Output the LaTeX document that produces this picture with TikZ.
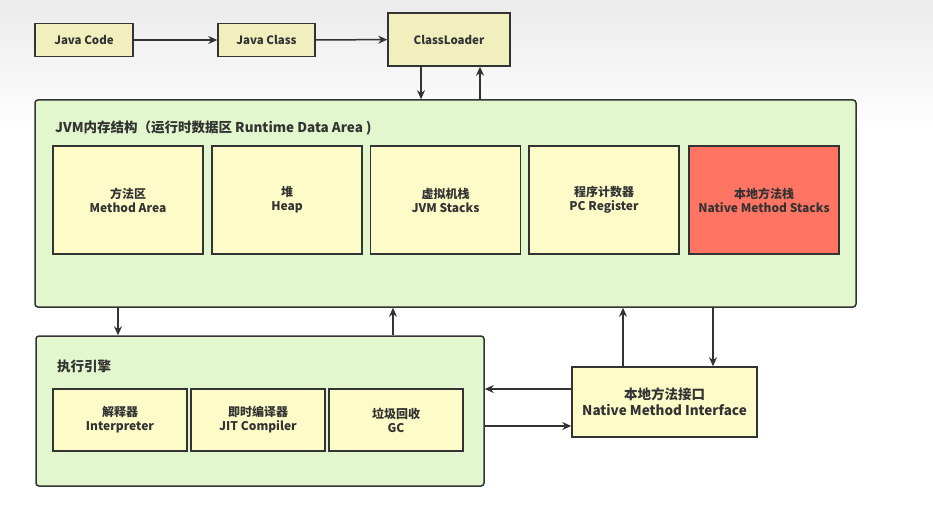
\documentclass[tikz,border=0pt]{standalone}
\usepackage{fontspec}
\newfontfamily\cjk{Noto Sans CJK SC}
\usetikzlibrary{arrows.meta}
\definecolor{linec}{HTML}{333333}
\definecolor{yel}{HTML}{FDFCC9}
\definecolor{yeltop}{HTML}{F1EFBE}
\definecolor{grn}{HTML}{E2F7CD}
\definecolor{redb}{HTML}{FF7462}
\tikzset{
  box/.style={draw=linec, line width=1.5pt, fill=yel, align=center, text=linec,
    font=\cjk\bfseries\fontsize{12}{14}\selectfont, inner sep=0pt},
  topbox/.style={box, fill=yeltop, font=\cjk\bfseries\fontsize{11.5}{14}\selectfont},
  area/.style={draw=linec, line width=1.5pt, fill=grn, rounded corners=3pt, inner sep=0pt},
  title/.style={anchor=west, text=linec, font=\cjk\bfseries\fontsize{13.5}{15}\selectfont, inner sep=0pt},
  arr/.style={draw=linec, line width=1.5pt, -{Stealth[length=9pt,width=8pt]}}
}
\begin{document}
\begin{tikzpicture}[x=1pt,y=-1pt]
\useasboundingbox (0,0) rectangle (933,510);
\shade[top color=black!8, bottom color=white] (0,0) rectangle (933,130);
\fill[white] (0,130) rectangle (933,510);
% top row
\node[topbox, minimum width=98, minimum height=33] (jc) at (84,40) {Java Code};
\node[topbox, minimum width=97, minimum height=33] (jcl) at (266.5,40) {Java Class};
\node[topbox, minimum width=122, minimum height=53] (cl) at (449,39.5) {ClassLoader};
% JVM area
\node[area, minimum width=821, minimum height=207] (jvm) at (445.5,203.5) {};
\node[title] (jvmt) at (55,128) {JVM内存结构（运行时数据区 Runtime Data Area )};
\node[box, minimum width=150, minimum height=108] (ma) at (128,200) {方法区\\Method Area};
\node[box, minimum width=150, minimum height=108] (hp) at (287,200) {堆\\Heap};
\node[box, minimum width=150, minimum height=108] (vs) at (445.5,200) {虚拟机栈\\JVM Stacks};
\node[box, minimum width=150, minimum height=108] (pc) at (604,200) {程序计数器\\PC Register};
\node[box, fill=redb, minimum width=150, minimum height=108] (ns) at (764,200) {本地方法栈\\Native Method Stacks};
% execution engine
\node[area, minimum width=448, minimum height=150] (ee) at (260,411) {};
\node[title] (eet) at (57,366) {执行引擎};
\node[box, minimum width=134, minimum height=62] (ip) at (120,420) {解释器\\Interpreter};
\node[box, minimum width=134, minimum height=62] (jit) at (258,420) {即时编译器\\JIT Compiler};
\node[box, minimum width=134, minimum height=62] (gc) at (396,420) {垃圾回收\\GC};
% native interface
\node[box, fill=yel, font=\cjk\bfseries\fontsize{13.5}{16}\selectfont, minimum width=185, minimum height=70] (nmi) at (664.5,402) {本地方法接口\\Native Method Interface};
% connectors
\draw[arr] (jc) -- (jcl);
\draw[arr] (jcl) -- (cl);
\coordinate (xa) at (421,0);
\coordinate (xb) at (480,0);
\draw[arr] (xa |- cl.south) -- (xa |- jvm.north);
\draw[arr] (xb |- jvm.north) -- (xb |- cl.south);
\coordinate (xc) at (118,0);
\coordinate (xd) at (393,0);
\draw[arr] (xc |- jvm.south) -- (xc |- ee.north);
\draw[arr] (xd |- ee.north) -- (xd |- jvm.south);
\coordinate (xe) at (623,0);
\coordinate (xf) at (713,0);
\draw[arr] (xe |- nmi.north) -- (xe |- jvm.south);
\draw[arr] (xf |- jvm.south) -- (xf |- nmi.north);
\coordinate (ya) at (0,389);
\coordinate (yb) at (0,426);
\draw[arr] (nmi.west |- ya) -- (ee.east |- ya);
\draw[arr] (ee.east |- yb) -- (nmi.west |- yb);
\end{tikzpicture}
\end{document}
